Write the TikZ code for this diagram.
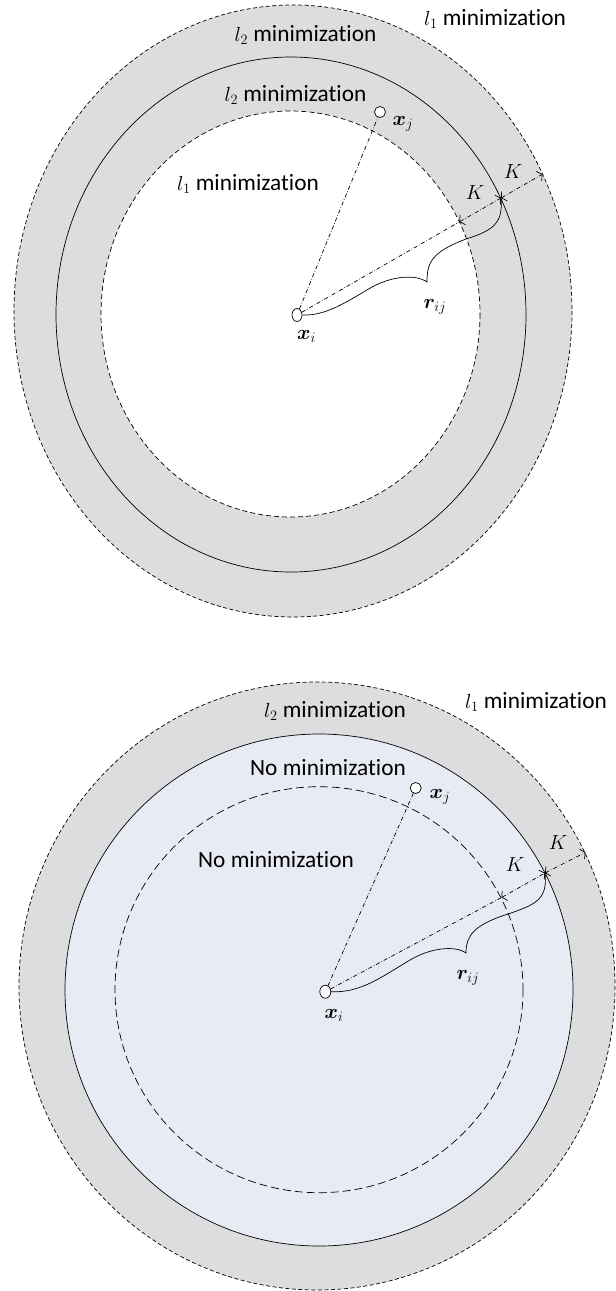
\RequirePackage{fix-cm}
\documentclass[tikz,border=0pt]{standalone}
\usepackage{amsmath,bm}
\usepackage[no-math]{fontspec}
\setmainfont{Carlito}[Scale=1.2,RawFeature=-liga]
\newcommand{\mth}[1]{{\fontsize{20.5}{24}\selectfont$#1$}}
\usetikzlibrary{arrows.meta,shapes.geometric}
\definecolor{ring}{HTML}{DCDDDF}
\definecolor{core}{HTML}{E8EBF3}
\begin{document}
\begin{tikzpicture}[x=1bp,y=-1bp,
  line width=0.7bp,
  pt/.style={draw, fill=white, ellipse, inner sep=0pt, line width=0.7bp},
  lab/.style={inner sep=0pt, font=\fontsize{19.5}{23}\selectfont},
  dashdot/.style={dash pattern=on 4bp off 2bp on 0.6bp off 2bp},
  odash/.style={dash pattern=on 4bp off 2.5bp},
  idashT/.style={dash pattern=on 5bp off 3bp},
  idashB/.style={dash pattern=on 8bp off 4bp},
  kar/.style={dashdot, {Straight Barb[length=3.5bp,width=11bp]}-{Straight Barb[length=3.5bp,width=11bp]}}
]
\useasboundingbox (0,0) rectangle (616,1291);

% ---------------- top diagram ----------------
\fill[ring] (293,311) ellipse [x radius=279, y radius=306];
\fill[white] (290.5,314) ellipse [x radius=189.5, y radius=203];
\draw[odash] (293,311) ellipse [x radius=279, y radius=306];
\draw (291,314.5) ellipse [x radius=235, y radius=257.5];
\draw[idashT] (290.5,314) ellipse [x radius=189.5, y radius=203];

\coordinate (koT) at (542.4,174.2);
\coordinate (kmT) at (501,198);
\coordinate (kiT) at (459.4,221.9);

\node[pt, minimum width=10bp, minimum height=13bp] (xiT) at (297,315) {};
\node[pt, circle, minimum size=11bp] (xjT) at (380,112) {};

\draw[dashdot] (xiT) -- (xjT);
\draw[dashdot] (xiT) -- (kiT);
\draw[kar] (kiT) -- (kmT);
\draw[kar] (kmT) -- (koT);
\draw (xiT.east) .. controls (325,316) and (345,303) .. (372,287)
  .. controls (392,276) and (416,274) .. (427,282)
  .. controls (427,262) and (432,252) .. (466,239)
  .. controls (495,230) and (503,222) .. (kmT);

\node[lab] (t1) at (495,19) {\mth{l_1} minimization};
\node[lab] (t2) at (305.5,35) {\mth{l_2} minimization};
\node[lab] (t3) at (295.5,95) {\mth{l_2} minimization};
\node[lab] (t4) at (248,184) {\mth{l_1} minimization};
\node[lab] (kTo) at (513,172) {\mth{K}};
\node[lab] (kTi) at (475,193) {\mth{K}};
\node[lab] (xjTl) at (403,124) {\mth{\bm{x}_j}};
\node[lab] (xiTl) at (306.5,336) {\mth{\bm{x}_i}};
\node[lab] (rTl) at (435,307) {\mth{\bm{r}_{ij}}};

% ---------------- bottom diagram ----------------
\fill[ring] (317,986) ellipse [x radius=298, y radius=304];
\fill[core] (319,990) ellipse [x radius=254, y radius=256];
\draw[odash] (317,986) ellipse [x radius=298, y radius=304];
\draw (319,990) ellipse [x radius=254, y radius=256];
\draw[idashB] (319,989.7) ellipse [x radius=204, y radius=203];

\coordinate (koB) at (585.5,852.3);
\coordinate (kmB) at (545,873);
\coordinate (kiB) at (501.5,897.5);

\node[pt, minimum width=11bp, minimum height=13bp] (xiB) at (325.3,991.7) {};
\node[pt, circle, minimum size=11bp] (xjB) at (415.7,788) {};

\draw[dashdot] (xiB) -- (xjB);
\draw[dashdot] (xiB) -- (kiB);
\draw[kar] (kiB) -- (kmB);
\draw[kar] (kmB) -- (koB);
\draw (xiB.east) .. controls (360,993) and (380,978) .. (410,960)
  .. controls (430,948) and (455,945) .. (466,953)
  .. controls (466,935) and (475,925) .. (505,915)
  .. controls (535,905) and (548,900) .. (kmB);

\node[lab] (b1) at (536,702) {\mth{l_1} minimization};
\node[lab] (b2) at (335,711) {\mth{l_2} minimization};
\node[lab] (b3) at (328,768) {No minimization};
\node[lab] (b4) at (276,860) {No minimization};
\node[lab] (kBo) at (558,843) {\mth{K}};
\node[lab] (kBi) at (515,865) {\mth{K}};
\node[lab] (xjBl) at (440,797) {\mth{\bm{x}_j}};
\node[lab] (xiBl) at (334,1015) {\mth{\bm{x}_i}};
\node[lab] (rBl) at (468,978) {\mth{\bm{r}_{ij}}};
\end{tikzpicture}
\end{document}
